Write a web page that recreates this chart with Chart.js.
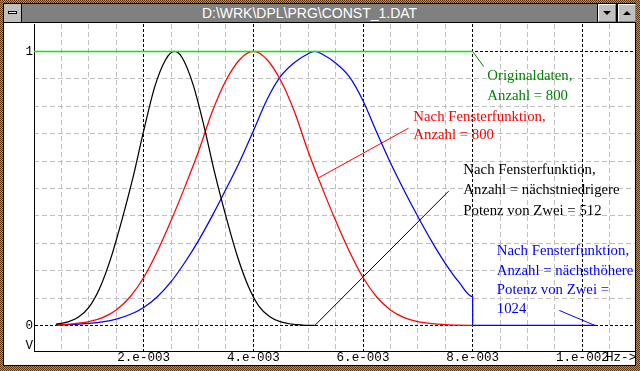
<!DOCTYPE html>
<html>
<head>
<meta charset="utf-8">
<title>CONST_1.DAT</title>
<script src="https://cdn.jsdelivr.net/npm/chart.js@4.4.1/dist/chart.umd.min.js"></script>
<style>
  html, body { margin:0; padding:0; width:640px; height:371px; overflow:hidden; background:#000; }
  #frame { position:absolute; left:0; top:0; width:640px; height:371px;
    background: repeating-conic-gradient(#d4883a 0 25%, #5c3410 0 50%) 0 0 / 2px 2px; }
  #inner { position:absolute; left:3px; top:3px; width:633px; height:363px; background:#000; }
  #white { position:absolute; left:4px; top:23px; width:631px; height:342px; background:#fff; }
  #sys { position:absolute; left:4px; top:4px; width:17px; height:18px; background:#c0c0c0; }
  #sys i { position:absolute; left:4px; top:7px; width:7px; height:1px; background:#fff; border:1px solid #000; }
  #title { position:absolute; left:22px; top:4px; width:575px; height:18px; background:#808080; color:#fff;
    font:14px "Liberation Sans", Arial, sans-serif; line-height:18px; text-align:center; }
  .btn { position:absolute; top:4px; width:16px; height:16px; background:#c0c0c0;
    border-top:1px solid #fff; border-left:1px solid #fff; border-right:1px solid #808080; border-bottom:1px solid #808080; }
  #bdown { left:598px; } #bup { left:618px; }
  .tri { position:absolute; left:4px; width:0; height:0; border-left:4px solid transparent; border-right:4px solid transparent; }
  #bdown .tri { top:6px; border-top:4px solid #000; }
  #bup .tri { top:6px; border-bottom:4px solid #000; }
  #c { position:absolute; left:0; top:0; }
</style>
</head>
<body>
<div id="frame"></div>
<div id="inner"></div>
<div id="white"></div>
<div id="sys"><i></i></div>
<div id="title">D:\WRK\DPL\PRG\CONST_1.DAT</div>
<div class="btn" id="bdown"><div class="tri"></div></div>
<div class="btn" id="bup"><div class="tri"></div></div>
<canvas id="c" width="640" height="371"></canvas>
<script>
// ---------- data ----------
const greenX = [0, 0.008];
const greenY = [1, 1];

const blackX = [0.0004,0.0006,0.0008,0.0010,0.0012,0.0014,0.0016,0.0018,0.0020,0.0022,0.0024,0.00256,
                0.0027,0.0029,0.0031,0.0033,0.0035,0.0037,0.0039,0.0041,0.0043,0.0045,0.0047,0.0049,0.00512];
const blackY = [0.0045,0.012,0.029,0.066,0.137,0.245,0.383,0.536,0.71,0.87,0.97,1.0,
                0.978,0.88,0.728,0.553,0.398,0.258,0.147,0.071,0.032,0.013,0.005,0.0017,0];

const redX = [0.0004,0.00075,0.001,0.00125,0.0015,0.00175,0.002,0.00225,0.0025,0.00275,0.003,0.00325,0.0035,0.00375,0.004,
              0.00425,0.0045,0.00475,0.005,0.00525,0.0055,0.00575,0.006,0.00625,0.0065,0.00675,0.007,0.00725,0.0075,0.00775,0.008];
const redY = [0.002,0.007,0.014,0.029,0.057,0.104,0.175,0.271,0.383,0.505,0.635,0.78,0.894,0.97,1.0,
              0.97,0.894,0.78,0.635,0.505,0.383,0.271,0.175,0.104,0.057,0.029,0.014,0.007,0.003,0.001,0];

const blueX = [0.0004,0.00075,0.001,0.00125,0.0015,0.00175,0.002,0.00225,0.0025,0.00275,0.003,0.00325,0.0035,0.00375,0.004,
               0.00425,0.0045,0.00475,0.005,0.00512,0.00525,0.0055,0.00575,0.006,0.00625,0.0065,0.00675,0.007,0.00725,0.0075,
               0.00775,0.008,0.008,0.01024];
const blueY = [0.0015,0.004,0.0075,0.013,0.023,0.040,0.066,0.105,0.16,0.23,0.31,0.40,0.497,0.598,0.71,
               0.825,0.91,0.96,0.992,1.0,0.991,0.958,0.908,0.82,0.705,0.594,0.493,0.398,0.308,0.227,
               0.158,0.105,0,0];

// leader lines from the notes to the curves
const greenLeaderX = [0.008, 0.0082];   const greenLeaderY = [1, 0.945];
const redLeaderX   = [0.0052, 0.00683]; const redLeaderY   = [0.54, 0.72];
const blackLeaderX = [0.00512, 0.00756];const blackLeaderY = [0, 0.49];
const blueLeaderX  = [0.00958, 0.01023];const blueLeaderY  = [0.055, 0];

// tick labels
const xTickValues = [0, 0.002, 0.004, 0.006, 0.008, 0.010, 0.010706];
const xTickLabels = ['', '2.e-003', '4.e-003', '6.e-003', '8.e-003', '1.e-002', 'Hz->'];
const yTickValues = [-0.073, 0, 1];
const yTickLabels = ['V', '0', '1'];

// note texts
const greenText = ['Originaldaten,', 'Anzahl = 800'];
const redText   = ['Nach Fensterfunktion,', 'Anzahl = 800'];
const blackText = ['Nach Fensterfunktion,', 'Anzahl = nächstniedrigere', 'Potenz von Zwei = 512'];
const blueText  = ['Nach Fensterfunktion,', 'Anzahl = nächsthöhere', 'Potenz von Zwei =', '1024'];

// ---------- build ----------
const pts = (xs, ys) => xs.map((x, i) => ({x, y: ys[i]}));
const X_MAX = 0.01096, Y_MIN = -0.09307, Y_MAX = 1.10036;

const minorX = []; for (let k = 1; k * 0.0005 < X_MAX; k++) if (k % 4) minorX.push(k * 0.0005);
const minorY = []; for (let k = 1; k < 10; k++) minorY.push(k / 10);

const notes = [
  {color:'#008000', x:0.008267, y:[0.8967, 0.8237], lines:greenText},
  {color:'#ff0000', x:0.006918, y:[0.748, 0.679], lines:redText},
  {color:'#000000', x:0.00783,  y:[0.5511, 0.4781, 0.4051], lines:blackText},
  {color:'#0000ff', x:0.008439, y:[0.2591, 0.1861, 0.115, 0.0438], lines:blueText}
];

const notePlugin = {
  id: 'notes',
  afterDatasetsDraw(chart) {
    const {ctx, scales} = chart;
    ctx.save();
    ctx.font = '14.8px "Liberation Serif", "Times New Roman", serif';
    ctx.textBaseline = 'alphabetic';
    ctx.textAlign = 'left';
    notes.forEach(n => {
      ctx.fillStyle = n.color;
      n.lines.forEach((t, i) => ctx.fillText(t, scales.x.getPixelForValue(n.x), scales.y.getPixelForValue(n.y[i])));
    });
    ctx.restore();
  }
};

const curve = (data, color, extra) => Object.assign({data, borderColor: color, borderWidth: 1.25, pointRadius: 0,
  fill: false, cubicInterpolationMode: 'monotone'}, extra || {});
const straight = (data, color, w) => ({data, borderColor: color, borderWidth: w || 1, pointRadius: 0, fill: false, tension: 0});

const monoFont = {family: '"Liberation Mono", "DejaVu Sans Mono", monospace', size: 12.6, lineHeight: 1.1};

new Chart(document.getElementById('c'), {
  type: 'line',
  data: {
    datasets: [
      straight(pts(greenX, greenY), '#00ee00', 1.6),
      curve(pts(blackX, blackY), '#000000'),
      curve(pts(redX, redY), '#ff0000'),
      curve(pts(blueX, blueY), '#0000ff'),
      straight(pts(greenLeaderX, greenLeaderY), '#008000'),
      straight(pts(redLeaderX, redLeaderY), '#ff0000'),
      straight(pts(blackLeaderX, blackLeaderY), '#000000'),
      straight(pts(blueLeaderX, blueLeaderY), '#0000ff')
    ]
  },
  options: {
    responsive: false, animation: false, devicePixelRatio: 1,
    layout: {padding: {left: 0, right: 5, top: 24, bottom: 0}},
    plugins: {legend: {display: false}, tooltip: {enabled: false}},
    scales: {
      xm: {
        type: 'linear', position: 'top', min: 0, max: X_MAX,
        afterBuildTicks: s => { s.ticks = minorX.map(v => ({value: v})); },
        afterFit: s => { s.height = 0; s.paddingLeft = 0; s.paddingRight = 0; },
        ticks: {display: false},
        grid: {color: '#c0c0c0', lineWidth: 1, drawTicks: false},
        border: {display: false, dash: [5, 3]}
      },
      ym: {
        type: 'linear', position: 'right', min: Y_MIN, max: Y_MAX,
        afterBuildTicks: s => { s.ticks = minorY.map(v => ({value: v})); },
        afterFit: s => { s.width = 0; s.paddingTop = 0; s.paddingBottom = 0; },
        ticks: {display: false},
        grid: {color: '#c0c0c0', lineWidth: 1, drawTicks: false},
        border: {display: false, dash: [5, 3]}
      },
      x: {
        type: 'linear', position: 'bottom', min: 0, max: X_MAX,
        afterBuildTicks: s => { s.ticks = xTickValues.map(v => ({value: v})); },
        afterFit: s => { s.height = 20; s.paddingLeft = 0; s.paddingRight = 0; },
        ticks: {autoSkip: false, maxRotation: 0, minRotation: 0, padding: 0, color: '#000', font: monoFont,
                callback: (v, i) => xTickLabels[i]},
        grid: {color: c => (c.index > 0 && c.index < 6) ? '#000' : 'rgba(0,0,0,0)', lineWidth: 1, drawTicks: false},
        border: {display: true, color: '#000', width: 1, dash: [3, 2]}
      },
      y: {
        type: 'linear', position: 'left', min: Y_MIN, max: Y_MAX,
        afterBuildTicks: s => { s.ticks = yTickValues.map(v => ({value: v})); },
        afterFit: s => { s.width = 34; s.paddingTop = 0; s.paddingBottom = 0; },
        ticks: {autoSkip: false, padding: 1, color: '#000', font: monoFont,
                callback: (v, i) => yTickLabels[i]},
        grid: {color: c => (c.index > 0) ? '#000' : 'rgba(0,0,0,0)', lineWidth: 1, drawTicks: false},
        border: {display: true, color: '#000', width: 1, dash: [3, 2]}
      }
    }
  },
  plugins: [notePlugin]
});
</script>
</body>
</html>
